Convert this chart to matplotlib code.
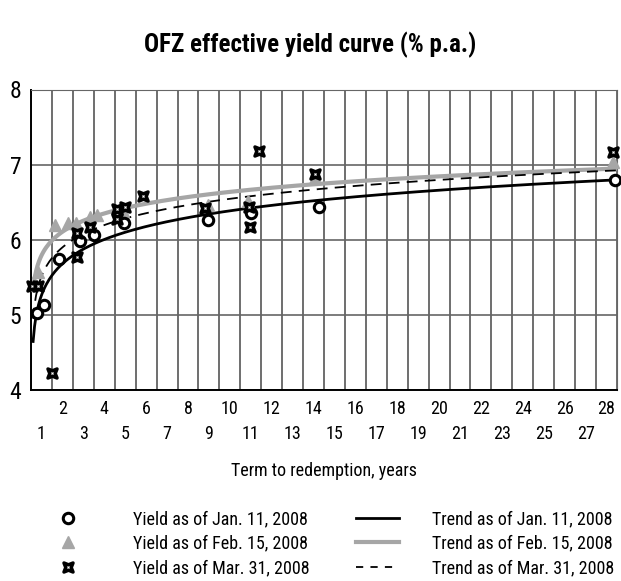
import numpy as np
import matplotlib
matplotlib.use("Agg")
from matplotlib import pyplot as plt
from matplotlib.path import Path

plt.rcParams['font.family'] = ['Roboto Condensed', 'DejaVu Sans']

# term to redemption (years) and yield (% p.a.)
jan_term = [0.29, 0.62, 1.34, 2.34, 3.01, 4.44, 8.46, 10.51, 13.76, 27.9]
jan_yield = [5.03, 5.13, 5.75, 5.98, 6.06, 6.22, 6.26, 6.35, 6.43, 6.80]

feb_term = [0.33, 1.15, 1.77, 2.15, 2.82, 3.15, 4.40, 8.46, 10.37, 13.57, 27.8]
feb_yield = [5.57, 6.19, 6.22, 6.22, 6.30, 6.33, 6.38, 6.46, 6.52, 6.82, 7.03]

mar_term = [0.05, 0.33, 1.0, 2.2, 2.2, 2.82, 4.1, 4.5, 4.1, 5.35, 8.3, 10.4, 10.46, 10.9, 13.57, 27.8]
mar_yield = [5.39, 5.39, 4.22, 5.77, 6.09, 6.17, 6.41, 6.44, 6.28, 6.58, 6.42, 6.43, 6.17, 7.18, 6.87, 7.17]

years = list(range(1, 29))
y_ticks = [4, 5, 6, 7, 8]

# concave square marker
verts = [(-1, -1), (0, -0.6), (1, -1), (0.6, 0), (1, 1), (0, 0.6), (-1, 1), (-0.6, 0), (-1, -1)]
star = Path(verts, [Path.MOVETO] + [Path.LINETO] * 7 + [Path.CLOSEPOLY])

gray = '#a6a6a6'

fig = plt.figure(figsize=(6.21, 5.81), dpi=100)
ax = fig.add_axes([31 / 621, 1 - 390 / 581, 586 / 621, 300.5 / 581])


def log_trend(term, yld):
    b, a = np.polyfit(np.log(term), yld, 1)
    xs = np.linspace(0.1, 28, 400)
    return xs, a + b * np.log(xs)


xs, ys = log_trend(jan_term, jan_yield)
ax.plot(xs, ys, color='black', lw=2, zorder=3)
xs, ys = log_trend(feb_term, feb_yield)
ax.plot(xs, ys, color=gray, lw=3, zorder=3)
xs, ys = log_trend(mar_term, mar_yield)
ax.plot(xs, ys, color='black', lw=1.3, dashes=(6, 4), zorder=3)

circle_style = dict(ls='none', marker='o', ms=7.5, mfc='white', mec='black', mew=2.2)
tri_style = dict(ls='none', marker='^', ms=8.5, color=gray)
star_style = dict(ls='none', marker=star, ms=6.5, mfc='white', mec='black', mew=2.5)

ax.plot(feb_term, feb_yield, zorder=4, clip_on=False, **tri_style)
ax.plot(jan_term, jan_yield, zorder=5, clip_on=False, **circle_style)
ax.plot(mar_term, mar_yield, zorder=6, clip_on=False, **star_style)

ax.set_xlim(0, 28)
ax.set_ylim(4, 8)

# grid on integer years, labels centred between grid lines
ax.set_xticks(range(0, 29))
ax.set_xticklabels([])
ax.set_xticks([k - 0.5 for k in years], minor=True)
ax.set_xticklabels([str(k) for k in years], minor=True, fontsize=13)
for i, tick in enumerate(ax.xaxis.get_minor_ticks()):
    tick.set_pad(7 if years[i] % 2 == 0 else 25)
ax.tick_params(axis='x', which='both', length=0)
ax.grid(axis='x', which='major', color='#555555', lw=1.2)

ax.set_yticks(y_ticks)
ax.set_yticklabels([str(v) for v in y_ticks], fontsize=17)
ax.tick_params(axis='y', length=0, pad=7)
ax.grid(axis='y', color='#666666', lw=1.2)
ax.set_axisbelow(True)

for side in ['top', 'right']:
    ax.spines[side].set_color('#666666')
for side in ['left', 'bottom']:
    ax.spines[side].set_color('black')
    ax.spines[side].set_linewidth(1.4)

ax.set_xlabel('Term to redemption, years', fontsize=13, labelpad=14)
fig.suptitle('OFZ effective yield curve (% p.a.)', fontsize=18, fontweight='bold', y=0.945)

h1, = ax.plot([], [], **circle_style)
h2, = ax.plot([], [], **tri_style)
h3, = ax.plot([], [], **star_style)
h4, = ax.plot([], [], color='black', lw=2)
h5, = ax.plot([], [], color=gray, lw=3)
h6, = ax.plot([], [], color='black', lw=1.3, dashes=(4, 4))

legend_kw = dict(loc='upper left', frameon=False, fontsize=13, labelspacing=0.37, borderpad=0)
fig.legend([h1, h2, h3],
           ['Yield as of Jan. 11, 2008', 'Yield as of Feb. 15, 2008', 'Yield as of Mar. 31, 2008'],
           bbox_to_anchor=(49 / 621, 1 - 501 / 581), handlelength=1.1, handletextpad=3.05,
           **legend_kw)
fig.legend([h4, h5, h6],
           ['Trend as of Jan. 11, 2008', 'Trend as of Feb. 15, 2008', 'Trend as of Mar. 31, 2008'],
           bbox_to_anchor=(347 / 621, 1 - 501 / 581), handlelength=2.38, handletextpad=1.83,
           **legend_kw)

fig.savefig('out.png', dpi=100)
